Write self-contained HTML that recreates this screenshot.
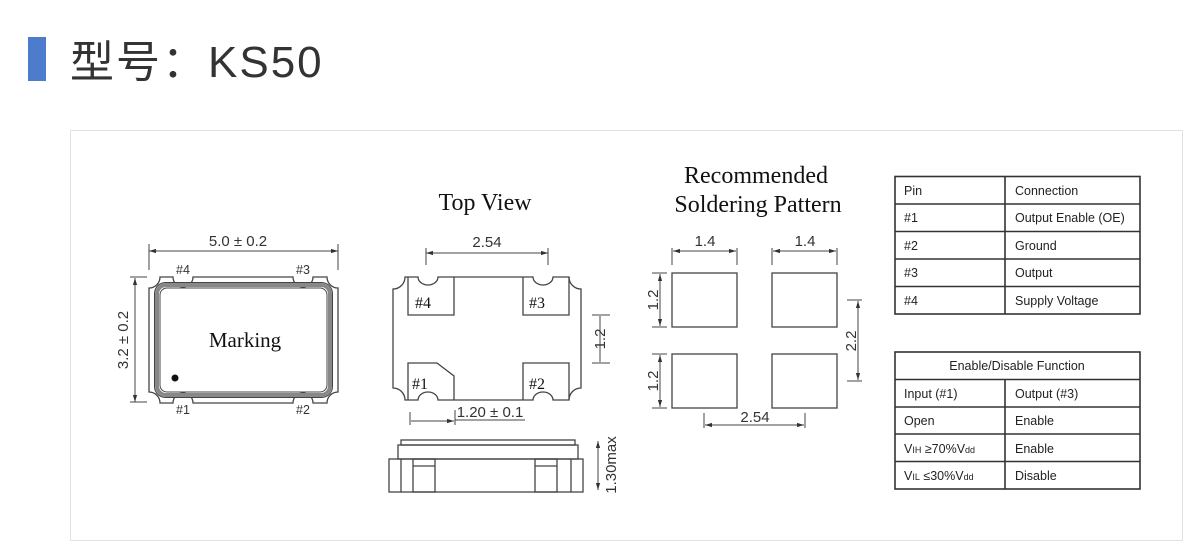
<!DOCTYPE html>
<html><head><meta charset="utf-8"><style>
html,body{margin:0;padding:0;background:#fff;width:1200px;height:557px;overflow:hidden}
svg{display:block}
</style></head><body>
<svg width="1200" height="557" viewBox="0 0 1200 557" xmlns="http://www.w3.org/2000/svg">
<defs>
<marker id="a" viewBox="0 0 10 10" refX="10" refY="5" markerWidth="7" markerHeight="7" orient="auto-start-reverse"><path d="M0,2 L10,5 L0,8 z" fill="#333"/></marker>
</defs>
<rect x="28" y="37" width="18" height="44" fill="#4d7ccc"/>
<text x="70" y="77" font-family="Liberation Sans, Noto Sans CJK SC, sans-serif" font-size="44" letter-spacing="2" fill="#333">型号：KS50</text>
<rect x="70.5" y="130.5" width="1112" height="410" fill="#fff" stroke="#e2e2e2"/>

<g fill="none" stroke="#444" stroke-width="1.3" font-family="Liberation Sans, sans-serif">
<!-- left package -->
<path d="M160,277 L173,277 A10,10 0 0 0 193,277 L293,277 A10,10 0 0 0 313,277 L327,277 A11,11 0 0 0 338,288 L338,392 A11,11 0 0 0 327,403 L313,403 A10,10 0 0 0 293,403 L193,403 A10,10 0 0 0 173,403 L160,403 A11,11 0 0 0 149,392 L149,288 A11,11 0 0 0 160,277 Z"/>
<rect x="157" y="285" width="173" height="110" rx="9" stroke-width="4" stroke="#888"/>
<rect x="160" y="288" width="167" height="104" rx="7" stroke-width="1"/>
<rect x="154.5" y="282.5" width="178" height="115" rx="11" stroke-width="1"/>
<line x1="149" y1="251" x2="338" y2="251" marker-start="url(#a)" marker-end="url(#a)" stroke-width="1"/>
<line x1="149" y1="244" x2="149" y2="270" stroke-width="1"/>
<line x1="338" y1="244" x2="338" y2="270" stroke-width="1"/>
<line x1="135" y1="278" x2="135" y2="402" marker-start="url(#a)" marker-end="url(#a)" stroke-width="1"/>
<line x1="130" y1="277" x2="147" y2="277" stroke-width="1"/>
<line x1="130" y1="402" x2="147" y2="402" stroke-width="1"/>
<!-- top view -->
<path d="M405,277 L418,277 A10,8 0 0 0 438,277 L533,277 A10,8 0 0 0 553,277 L569,277 A12,12 0 0 0 581,289 L581,388 A12,12 0 0 0 569,400 L553,400 A10,8 0 0 0 533,400 L438,400 A10,8 0 0 0 418,400 L405,400 A12,12 0 0 0 393,388 L393,289 A12,12 0 0 0 405,277 Z"/>
<path d="M408,277 L408,315 L454,315 L454,277"/>
<path d="M523,277 L523,315 L569,315 L569,277"/>
<path d="M408,400 L408,363 L437,363 L454,376 L454,400"/>
<path d="M523,400 L523,363 L569,363 L569,400"/>
<line x1="426" y1="253" x2="548" y2="253" marker-start="url(#a)" marker-end="url(#a)" stroke-width="1"/>
<line x1="426" y1="248" x2="426" y2="265" stroke-width="1"/>
<line x1="548" y1="248" x2="548" y2="265" stroke-width="1"/>
<line x1="411" y1="421" x2="454" y2="421" marker-end="url(#a)" stroke-width="1"/>
<line x1="410" y1="412" x2="410" y2="425" stroke-width="1"/>
<line x1="455" y1="410" x2="455" y2="425" stroke-width="1"/>
<line x1="455" y1="420" x2="525" y2="420" stroke-width="1"/>
<line x1="600" y1="316" x2="600" y2="362" stroke-width="1"/>
<line x1="592" y1="315" x2="610" y2="315" stroke-width="1"/>
<line x1="592" y1="363" x2="610" y2="363" stroke-width="1"/>
<!-- side view -->
<rect x="401" y="440" width="174" height="5"/>
<rect x="398" y="445" width="180" height="14"/>
<rect x="389" y="459" width="194" height="33"/>
<line x1="401" y1="459" x2="401" y2="492"/>
<line x1="571" y1="459" x2="571" y2="492"/>
<rect x="413" y="459" width="22" height="33"/>
<line x1="413" y1="466" x2="435" y2="466"/>
<rect x="535" y="459" width="22" height="33"/>
<line x1="535" y1="466" x2="557" y2="466"/>
<line x1="598" y1="441" x2="598" y2="490" marker-start="url(#a)" marker-end="url(#a)" stroke-width="1"/>
<!-- soldering -->
<rect x="672" y="273" width="65" height="54"/>
<rect x="772" y="273" width="65" height="54"/>
<rect x="672" y="354" width="65" height="54"/>
<rect x="772" y="354" width="65" height="54"/>
<g stroke-width="1">
<line x1="673" y1="251" x2="736" y2="251" marker-start="url(#a)" marker-end="url(#a)"/>
<line x1="672" y1="248" x2="672" y2="265"/><line x1="737" y1="248" x2="737" y2="265"/>
<line x1="773" y1="251" x2="836" y2="251" marker-start="url(#a)" marker-end="url(#a)"/>
<line x1="772" y1="248" x2="772" y2="265"/><line x1="837" y1="248" x2="837" y2="265"/>
<line x1="660" y1="274" x2="660" y2="326" marker-start="url(#a)" marker-end="url(#a)"/>
<line x1="652" y1="273" x2="667" y2="273"/><line x1="652" y1="327" x2="667" y2="327"/>
<line x1="660" y1="355" x2="660" y2="407" marker-start="url(#a)" marker-end="url(#a)"/>
<line x1="652" y1="354" x2="667" y2="354"/><line x1="652" y1="408" x2="667" y2="408"/>
<line x1="858" y1="301" x2="858" y2="380" marker-start="url(#a)" marker-end="url(#a)"/>
<line x1="847" y1="300" x2="862" y2="300"/><line x1="847" y1="381" x2="862" y2="381"/>
<line x1="705" y1="425" x2="804" y2="425" marker-start="url(#a)" marker-end="url(#a)"/>
<line x1="704" y1="413" x2="704" y2="428"/><line x1="805" y1="413" x2="805" y2="428"/>
</g>
<!-- tables -->
<g stroke="#333" stroke-width="1.6">
<rect x="895" y="176.5" width="245" height="137.5"/>
<line x1="1005" y1="176.5" x2="1005" y2="314"/>
<line x1="895" y1="204" x2="1140" y2="204"/><line x1="895" y1="231.5" x2="1140" y2="231.5"/>
<line x1="895" y1="259" x2="1140" y2="259"/><line x1="895" y1="286.5" x2="1140" y2="286.5"/>
<rect x="895" y="352" width="245" height="137"/>
<line x1="1005" y1="379.5" x2="1005" y2="489"/>
<line x1="895" y1="379.5" x2="1140" y2="379.5"/><line x1="895" y1="407" x2="1140" y2="407"/>
<line x1="895" y1="434" x2="1140" y2="434"/><line x1="895" y1="461.5" x2="1140" y2="461.5"/>
</g>
</g>
<circle cx="175" cy="378" r="3.5" fill="#111"/>

<g font-family="Liberation Sans, sans-serif" font-size="15" fill="#333">
<text x="238" y="246" text-anchor="middle">5.0 ± 0.2</text>
<text x="183" y="274" text-anchor="middle" font-size="12.5">#4</text>
<text x="303" y="274" text-anchor="middle" font-size="12.5">#3</text>
<text x="183" y="414" text-anchor="middle" font-size="12.5">#1</text>
<text x="303" y="414" text-anchor="middle" font-size="12.5">#2</text>
<text transform="translate(128,340) rotate(-90)" text-anchor="middle">3.2 ± 0.2</text>
<text x="487" y="247" text-anchor="middle">2.54</text>
<text x="490" y="417" text-anchor="middle">1.20 ± 0.1</text>
<text transform="translate(605,339) rotate(-90)" text-anchor="middle">1.2</text>
<text transform="translate(616,465) rotate(-90)" text-anchor="middle">1.30max</text>
<text x="705" y="246" text-anchor="middle">1.4</text>
<text x="805" y="246" text-anchor="middle">1.4</text>
<text transform="translate(658,300) rotate(-90)" text-anchor="middle">1.2</text>
<text transform="translate(658,381) rotate(-90)" text-anchor="middle">1.2</text>
<text transform="translate(856,341) rotate(-90)" text-anchor="middle">2.2</text>
<text x="755" y="422" text-anchor="middle">2.54</text>
</g>
<g font-family="Liberation Serif, serif" fill="#111">
<text x="245" y="347" text-anchor="middle" font-size="21">Marking</text>
<text x="485" y="210" text-anchor="middle" font-size="24">Top View</text>
<text x="756" y="183" text-anchor="middle" font-size="24">Recommended</text>
<text x="758" y="212" text-anchor="middle" font-size="24">Soldering Pattern</text>
<g font-size="16"><text x="415" y="308">#4</text><text x="529" y="308">#3</text><text x="412" y="389">#1</text><text x="529" y="389">#2</text></g>
</g>
<g font-family="Liberation Sans, sans-serif" font-size="12.5" fill="#222">
<text x="904" y="195">Pin</text><text x="1015" y="195">Connection</text>
<text x="904" y="222">#1</text><text x="1015" y="222">Output Enable (OE)</text>
<text x="904" y="250">#2</text><text x="1015" y="250">Ground</text>
<text x="904" y="277">#3</text><text x="1015" y="277">Output</text>
<text x="904" y="305">#4</text><text x="1015" y="305">Supply Voltage</text>
<text x="1017" y="370" text-anchor="middle">Enable/Disable Function</text>
<text x="904" y="398">Input (#1)</text><text x="1015" y="398">Output (#3)</text>
<text x="904" y="425">Open</text><text x="1015" y="425">Enable</text>
<text x="904" y="453">V<tspan font-size="9">IH</tspan> ≥70%V<tspan font-size="9">dd</tspan></text><text x="1015" y="453">Enable</text>
<text x="904" y="480">V<tspan font-size="9">IL</tspan> ≤30%V<tspan font-size="9">dd</tspan></text><text x="1015" y="480">Disable</text>
</g>
</svg>
</body></html>
